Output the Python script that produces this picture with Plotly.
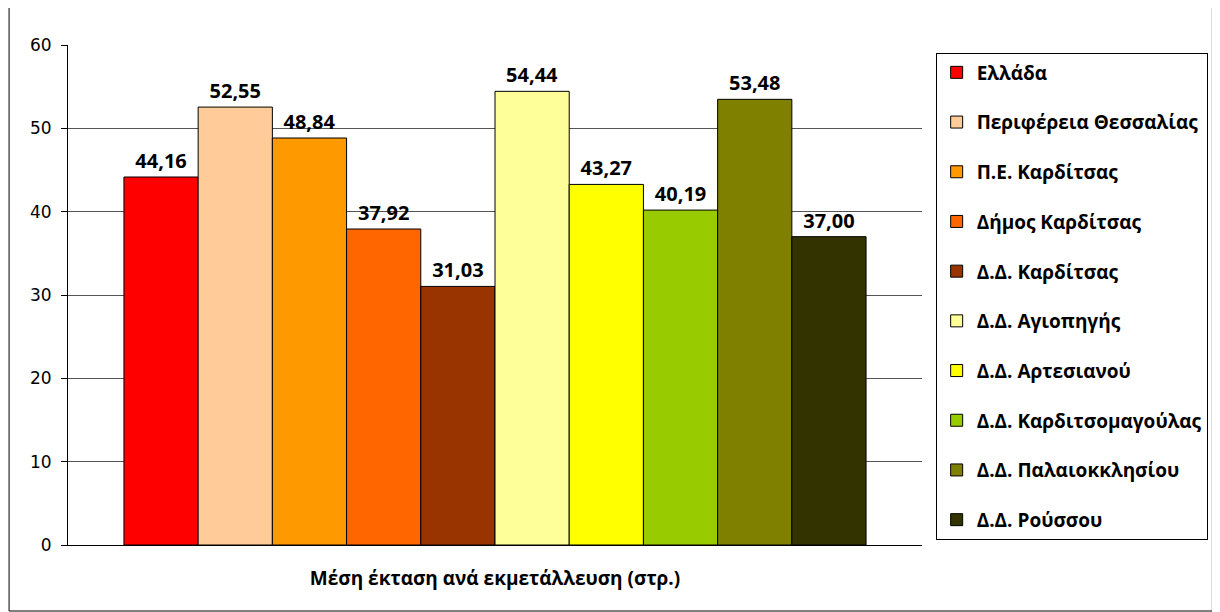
import plotly.graph_objects as go

category = "Μέση έκταση ανά εκμετάλλευση (στρ.)"
names = ["Ελλάδα", "Περιφέρεια Θεσσαλίας", "Π.Ε. Καρδίτσας", "Δήμος Καρδίτσας",
         "Δ.Δ. Καρδίτσας", "Δ.Δ. Αγιοπηγής", "Δ.Δ. Αρτεσιανού",
         "Δ.Δ. Καρδιτσομαγούλας", "Δ.Δ. Παλαιοκκλησίου", "Δ.Δ. Ρούσσου"]
values = [44.16, 52.55, 48.84, 37.92, 31.03, 54.44, 43.27, 40.19, 53.48, 37.00]
colors = ["#FF0000", "#FFCC99", "#FF9900", "#FF6600", "#993300",
          "#FFFF99", "#FFFF00", "#99CC00", "#808000", "#333300"]
y_ticks = [0, 10, 20, 30, 40, 50, 60]

fig = go.Figure()
for i, (n, v, c) in enumerate(zip(names, values, colors)):
    fig.add_trace(go.Bar(
        x=[category], y=[v], name=n, legendgroup=f"g{i}",
        marker=dict(color=c, line=dict(color="black", width=1)),
        text=[f"{v:.2f}".replace(".", ",")], textposition="outside",
        textfont=dict(family="Open Sans", size=20, color="black", weight="bold"),
        cliponaxis=False,
    ))

# page body has an 8px default margin; figure size/margins compensate for it
fig.update_layout(
    width=1212, height=604,
    margin=dict(l=60, r=292, t=37, b=67),
    paper_bgcolor="white", plot_bgcolor="white",
    barmode="group", bargap=0.131, bargroupgap=0,
    showlegend=True,
    legend=dict(x=1.016, y=0.985, xanchor="left", yanchor="top",
                bordercolor="black", borderwidth=1, bgcolor="white",
                tracegroupgap=22, traceorder="grouped",
                font=dict(family="Open Sans", size=19, color="black", weight="bold")),
    xaxis=dict(showline=True, linecolor="black", linewidth=1, showgrid=False,
               tickfont=dict(family="Open Sans", size=19, color="black", weight="bold"),
               ticks="", ticklabelstandoff=16),
    yaxis=dict(range=[0, 60], tickvals=y_ticks, showline=True, linecolor="black",
               linewidth=1, ticks="outside", ticklen=6, tickcolor="black",
               showgrid=True, gridcolor="#555555", gridwidth=1,
               tickfont=dict(family="DejaVu Sans", size=17, color="black"),
               ticklabelstandoff=6, zeroline=False),
    shapes=[dict(type="rect", xref="paper", yref="paper",
                 x0=-0.069, x1=1.34, y0=-0.132, y1=1.076,
                 line=dict(color="black", width=1))],
)

fig.write_html("out.html")
